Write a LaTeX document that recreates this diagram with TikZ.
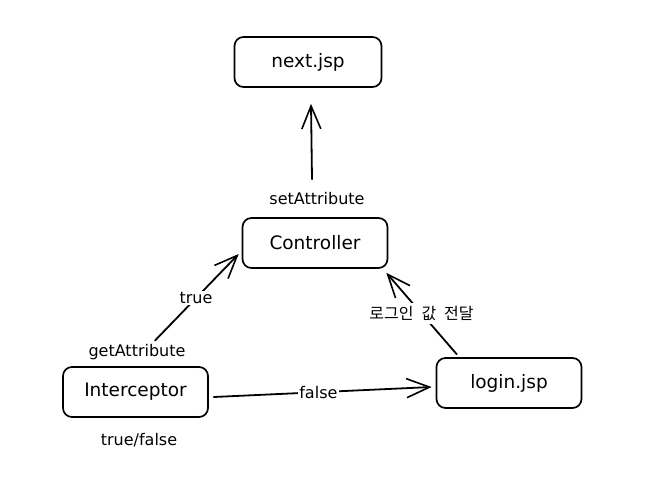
\documentclass[tikz,border=0pt]{standalone}
\usepackage{fontspec}
\setmainfont{DejaVu Sans}
\newfontfamily\kofont{Noto Sans CJK KR}
\usetikzlibrary{arrows.meta,calc}
\newcommand{\widesp}{\spaceskip=8pt\relax}
\begin{document}
\begin{tikzpicture}[x=1pt,y=-1pt,
  box/.style={draw, line width=1.7pt, rounded corners=9pt, minimum height=50pt,
              inner sep=0pt, font=\fontsize{18.5}{22}\selectfont},
  lbl/.style={fill=white, inner sep=1.5pt, font=\fontsize{16}{19}\selectfont},
  kolbl/.style={lbl, inner sep=3pt, font=\kofont\fontsize{16}{19}\selectfont},
  arr/.style={line width=1.8pt, line cap=round,
              -{Straight Barb[length=23pt,width=19pt,line width=1.6pt]}},
  ln/.style={line width=1.8pt, line cap=round}]
\useasboundingbox (0,0) rectangle (651,481);
\node[box, minimum width=147pt] (n) at (308,62) {next.jsp};
\node[box, minimum width=145pt] (c) at (315,243) {Controller};
\node[box, minimum width=145pt] (i) at (135.5,392) {Interceptor};
\node[box, minimum width=145pt] (l) at (509,383) {login.jsp};
\node[lbl] (sa) at (317,199) {setAttribute};
\node[lbl] (ga) at (137,352) {getAttribute};
\node[lbl] (tf) at (139,440) {true/false};
% Controller -> next.jsp
\draw[arr] ($(sa.north)+(-5,-12)$) -- ($(n.south)+(3,16)$);
% Interceptor -> Controller
\draw[arr] ($(ga.north)+(18,-2)$) -- ($(c.west)+(-3,11)$)
  node[lbl, pos=0.49] (t) {true};
% login.jsp -> Controller
\draw[arr] ($(l.north west)+(21,-3)$) -- ($(c.south east)+(-2,4)$)
  node[kolbl, pos=0.5] (k) {\widesp 로그인 값 전달};
% Interceptor -> login.jsp
\draw[arr] ($(i.east)+(5,5)$) -- ($(l.west)+(-4,4)$)
  node[lbl, pos=0.48] (f) {false};
\end{tikzpicture}
\end{document}
